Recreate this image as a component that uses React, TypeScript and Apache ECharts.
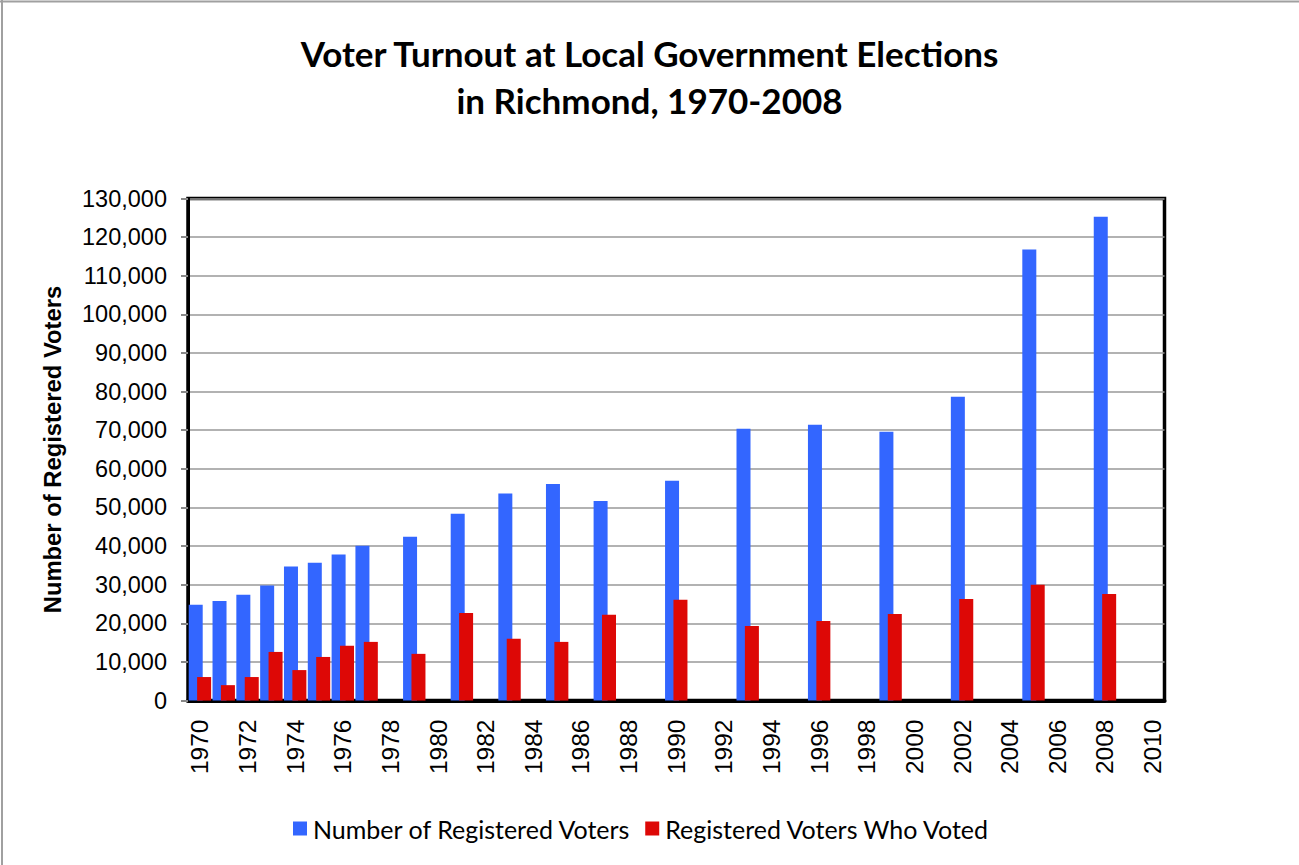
import React, { useEffect, useRef } from "react";
import * as echarts from "echarts";

const categories: string[] = [];
for (let y = 1970; y <= 2010; y++) categories.push(String(y));

const dataYears = [1970, 1971, 1972, 1973, 1974, 1975, 1976, 1977, 1979, 1981, 1983, 1985, 1987, 1990, 1993, 1996, 1999, 2002, 2005, 2008];
const registered = [24800, 25800, 27400, 29800, 34700, 35700, 37800, 40100, 42400, 48400, 53600, 56100, 51700, 56900, 70400, 71400, 69600, 78700, 116800, 125300];
const voted = [6100, 4000, 6100, 12600, 7900, 11300, 14200, 15200, 12100, 22700, 16000, 15200, 22200, 26100, 19300, 20600, 22400, 26300, 30000, 27600];

const seriesNames = ["Number of Registered Voters", "Registered Voters Who Voted"];
const titleLines = ["Voter Turnout at Local Government Elections", "in Richmond, 1970-2008"];
const yAxisTitle = "Number of Registered Voters";

function toCategoryData(values: number[]): (number | null)[] {
  return categories.map((c) => {
    const i = dataYears.indexOf(Number(c));
    return i >= 0 ? values[i] : null;
  });
}

export default function App() {
  const ref = useRef<HTMLDivElement>(null);
  useEffect(() => {
    if (!ref.current) return;
    const chart = echarts.init(ref.current, undefined, { renderer: "svg" });
    chart.setOption({
      animation: false,
      backgroundColor: "#fff",
      title: {
        text: titleLines.join("\n"),
        left: "center",
        top: 24,
        textStyle: {
          fontFamily: "Lato",
          fontWeight: "bold",
          fontSize: 35,
          lineHeight: 47,
          color: "#000",
        },
      },
      graphic: [
        { type: "line", shape: { x1: 0, y1: 1.5, x2: 1299, y2: 1.5 }, style: { stroke: "#a0a0a0", lineWidth: 2 } },
        { type: "line", shape: { x1: 2, y1: 0, x2: 2, y2: 865 }, style: { stroke: "#a0a0a0", lineWidth: 2 } },
      ],
      legend: {
        bottom: 19,
        left: 288,
        itemWidth: 14,
        itemHeight: 14,
        itemGap: 14,
        icon: "rect",
        textStyle: { fontFamily: "Lato", fontSize: 25, color: "#000", padding: [0, 0, 0, 1] },
        data: seriesNames,
      },
      grid: {
        left: 188,
        right: 134.5,
        top: 198.5,
        bottom: 164.4,
        show: true,
        borderColor: "#000",
        borderWidth: 3.5,
      },
      xAxis: {
        type: "category",
        data: categories,
        boundaryGap: true,
        axisLine: { lineStyle: { color: "#000", width: 4 } },
        axisTick: { interval: 1, alignWithLabel: false, length: 8, lineStyle: { color: "#000", width: 2 } },
        axisLabel: {
          interval: 1,
          rotate: 90,
          margin: 19,
          fontFamily: "Liberation Sans",
          fontSize: 24.5,
          color: "#000",
        },
        splitLine: { show: false },
      },
      yAxis: {
        type: "value",
        min: 0,
        max: 130000,
        interval: 10000,
        name: yAxisTitle,
        nameLocation: "middle",
        nameGap: 124,
        nameTextStyle: { fontFamily: "Liberation Sans", fontWeight: "bold", fontSize: 23.8, color: "#000" },
        axisLine: { show: true, lineStyle: { color: "#000", width: 3 } },
        axisTick: { show: true, length: 7, lineStyle: { color: "#888", width: 2 } },
        axisLabel: {
          margin: 21,
          fontFamily: "Liberation Sans",
          fontSize: 23.5,
          color: "#000",
          formatter: (v: number) => v.toLocaleString("en-US"),
        },
        splitLine: { lineStyle: { color: "#999", width: 1.5 } },
      },
      series: [
        {
          name: seriesNames[0],
          type: "bar",
          data: toCategoryData(registered),
          barWidth: 14,
          barGap: "-40%",
          itemStyle: { color: "#3366FF" },
        },
        {
          name: seriesNames[1],
          type: "bar",
          data: toCategoryData(voted),
          barWidth: 14,
          barGap: "-40%",
          itemStyle: { color: "#DD0806" },
        },
      ],
    });
    return () => chart.dispose();
  }, []);
  return <div ref={ref} style={{ position: "absolute", left: 0, top: 0, width: 1299, height: 865 }} />;
}
